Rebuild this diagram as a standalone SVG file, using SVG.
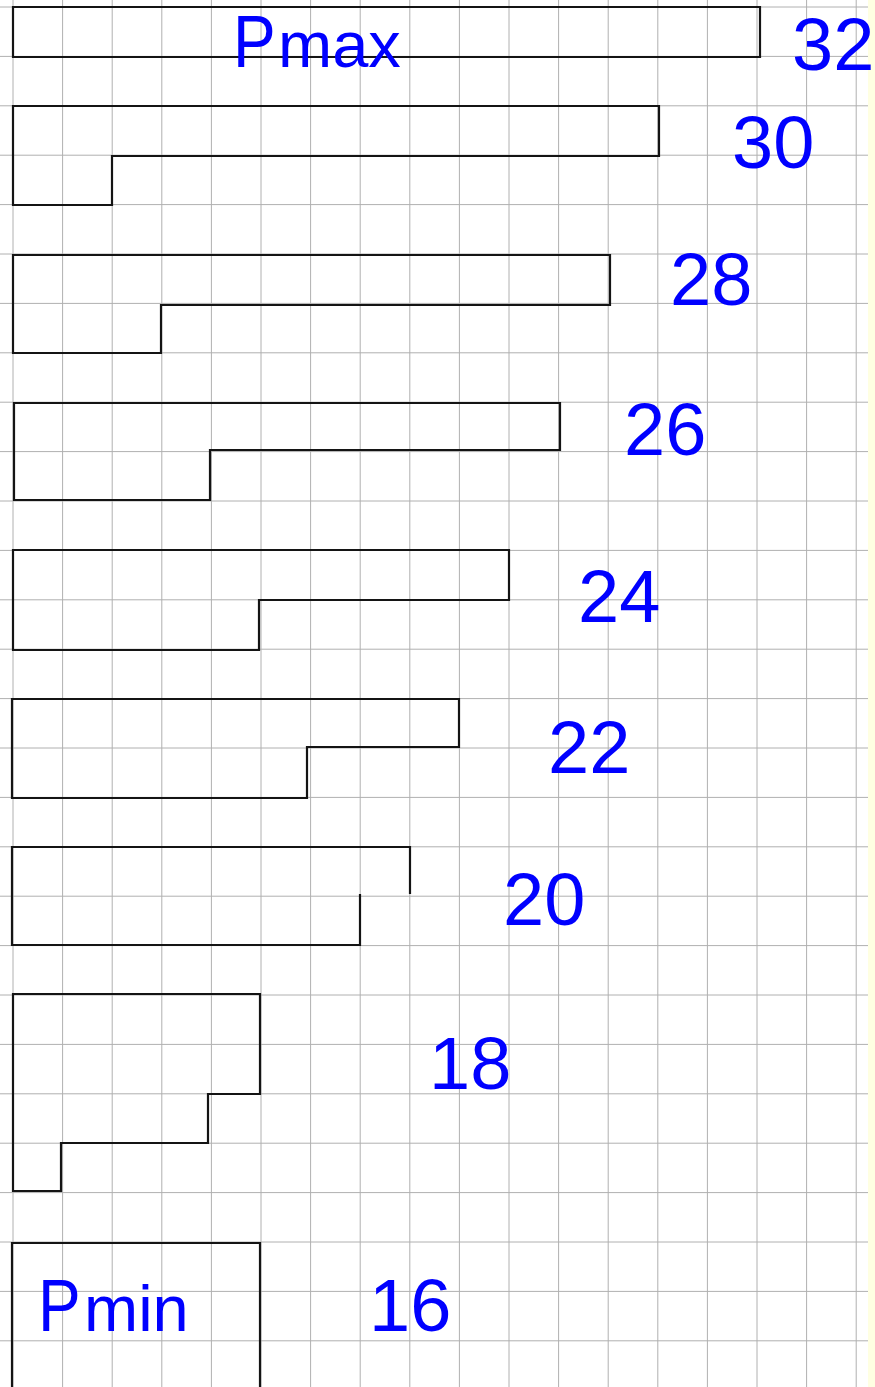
<svg xmlns="http://www.w3.org/2000/svg" width="875" height="1387" viewBox="0 0 875 1387">
<defs>
<style>
.grid line{stroke:#b0b0b0;stroke-width:1}
.shape{fill:none;stroke:#141414;stroke-width:2.2;stroke-linejoin:miter;stroke-linecap:square}
.num{font-family:"Liberation Sans",Arial,sans-serif;font-size:74px;fill:#0000ff}
.lbl{font-family:"Liberation Sans",Arial,sans-serif;font-size:65px;fill:#0000ff}
.cap{font-family:"Liberation Sans",Arial,sans-serif;font-size:64px;fill:#0000ff}
</style>
</defs>
<rect x="0" y="0" width="875" height="1387" fill="#ffffff"/>
<rect x="868" y="0" width="7" height="1387" fill="#ffffe2"/>
<g class="grid" id="grid">
<line x1="13" y1="0" x2="13" y2="1387"/>
<line x1="62.6" y1="0" x2="62.6" y2="1387"/>
<line x1="112.2" y1="0" x2="112.2" y2="1387"/>
<line x1="161.8" y1="0" x2="161.8" y2="1387"/>
<line x1="211.4" y1="0" x2="211.4" y2="1387"/>
<line x1="261" y1="0" x2="261" y2="1387"/>
<line x1="310.6" y1="0" x2="310.6" y2="1387"/>
<line x1="360.2" y1="0" x2="360.2" y2="1387"/>
<line x1="409.8" y1="0" x2="409.8" y2="1387"/>
<line x1="459.4" y1="0" x2="459.4" y2="1387"/>
<line x1="509" y1="0" x2="509" y2="1387"/>
<line x1="558.6" y1="0" x2="558.6" y2="1387"/>
<line x1="608.2" y1="0" x2="608.2" y2="1387"/>
<line x1="657.8" y1="0" x2="657.8" y2="1387"/>
<line x1="707.4" y1="0" x2="707.4" y2="1387"/>
<line x1="757" y1="0" x2="757" y2="1387"/>
<line x1="806.6" y1="0" x2="806.6" y2="1387"/>
<line x1="856.2" y1="0" x2="856.2" y2="1387"/>
<line x1="0" y1="7" x2="868" y2="7"/>
<line x1="0" y1="56.4" x2="868" y2="56.4"/>
<line x1="0" y1="105.8" x2="868" y2="105.8"/>
<line x1="0" y1="155.2" x2="868" y2="155.2"/>
<line x1="0" y1="204.6" x2="868" y2="204.6"/>
<line x1="0" y1="254" x2="868" y2="254"/>
<line x1="0" y1="303.4" x2="868" y2="303.4"/>
<line x1="0" y1="352.8" x2="868" y2="352.8"/>
<line x1="0" y1="402.2" x2="868" y2="402.2"/>
<line x1="0" y1="451.6" x2="868" y2="451.6"/>
<line x1="0" y1="501" x2="868" y2="501"/>
<line x1="0" y1="550.4" x2="868" y2="550.4"/>
<line x1="0" y1="599.8" x2="868" y2="599.8"/>
<line x1="0" y1="649.2" x2="868" y2="649.2"/>
<line x1="0" y1="698.6" x2="868" y2="698.6"/>
<line x1="0" y1="748" x2="868" y2="748"/>
<line x1="0" y1="797.4" x2="868" y2="797.4"/>
<line x1="0" y1="846.8" x2="868" y2="846.8"/>
<line x1="0" y1="896.2" x2="868" y2="896.2"/>
<line x1="0" y1="945.6" x2="868" y2="945.6"/>
<line x1="0" y1="995" x2="868" y2="995"/>
<line x1="0" y1="1044.4" x2="868" y2="1044.4"/>
<line x1="0" y1="1093.8" x2="868" y2="1093.8"/>
<line x1="0" y1="1143.2" x2="868" y2="1143.2"/>
<line x1="0" y1="1192.6" x2="868" y2="1192.6"/>
<line x1="0" y1="1242" x2="868" y2="1242"/>
<line x1="0" y1="1291.4" x2="868" y2="1291.4"/>
<line x1="0" y1="1340.8" x2="868" y2="1340.8"/>
</g>
<g id="p32">
<path class="shape" d="M13,7 H760 V57 H13 Z"/>
<text class="cap" transform="translate(233,67) scale(1,1.17)">P</text>
<text class="lbl" x="278" y="67">max</text>
<text class="num" x="792" y="70">32</text>
</g>
<g id="p30">
<path class="shape" d="M13,106 H659 V156 H112 V205 H13 Z"/>
<text class="num" x="732" y="168">30</text>
</g>
<g id="p28">
<path class="shape" d="M13,255 H610 V305 H161 V353 H13 Z"/>
<text class="num" x="670" y="305">28</text>
</g>
<g id="p26">
<path class="shape" d="M14,403 H560 V450 H210 V500 H14 Z"/>
<text class="num" x="624" y="455">26</text>
</g>
<g id="p24">
<path class="shape" d="M13,550 H509 V600 H259 V650 H13 Z"/>
<text class="num" x="578" y="622">24</text>
</g>
<g id="p22">
<path class="shape" d="M12,699 H459 V747 H307 V798 H12 Z"/>
<text class="num" x="548" y="773">22</text>
</g>
<g id="p20">
<path class="shape" d="M410,893 V847 H12 V945 H360 V895"/>
<text class="num" x="503" y="925">20</text>
</g>
<g id="p18">
<path class="shape" d="M13,994 H260 V1094 H208 V1143 H61 V1191 H13 Z"/>
<text class="num" x="429" y="1089">18</text>
</g>
<g id="p16">
<path class="shape" d="M12,1387 V1243 H260 V1387"/>
<text class="cap" transform="translate(38,1331) scale(1,1.17)">P</text>
<text class="lbl" x="84" y="1331">min</text>
<text class="num" x="369" y="1331">16</text>
</g>
</svg>
